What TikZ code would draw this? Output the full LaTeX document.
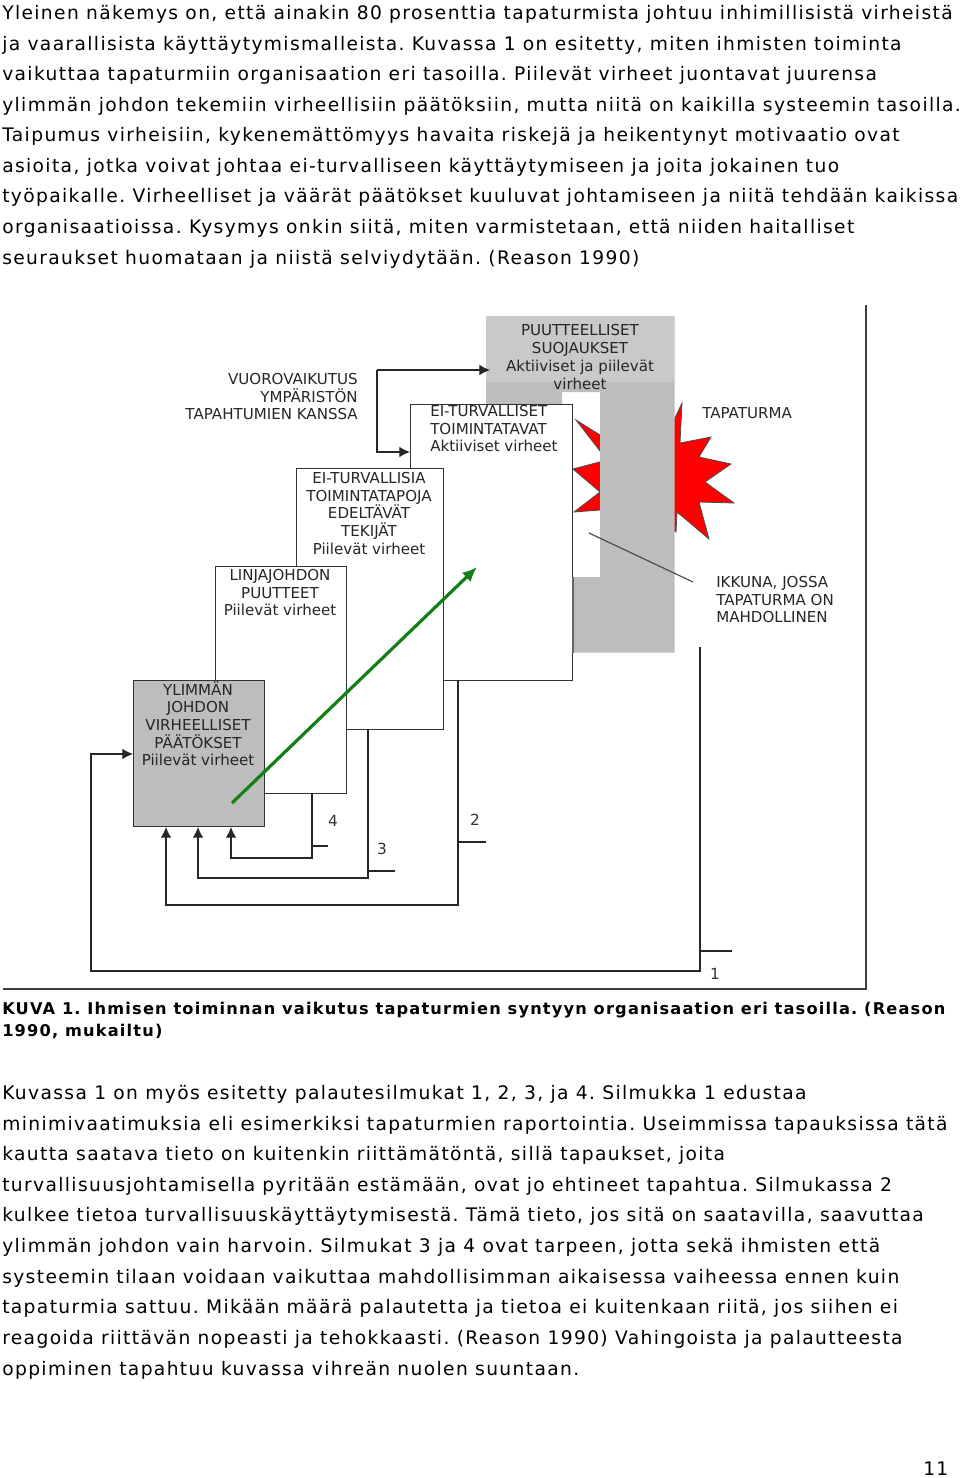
\documentclass[tikz,border=0pt]{standalone}
\usepackage{fontspec}
\setmainfont{DejaVu Sans}
\newfontfamily\bodyfont[LetterSpace=7.3]{DejaVu Sans}
\usetikzlibrary{calc, positioning, arrows.meta}

\definecolor{shieldgray}{HTML}{BDBDBD}
\definecolor{shieldlight}{HTML}{C9C9C9}
\definecolor{arrowgreen}{HTML}{128012}

\tikzset{
    bodyline/.style={anchor=base west,inner sep=0pt,font=\frenchspacing\bodyfont\fontsize{14pt}{16pt}\selectfont},
    captionline/.style={anchor=base west,inner sep=0pt,font=\frenchspacing\bodyfont\bfseries\fontsize{12.15pt}{14pt}\selectfont},
    errbox/.style={draw=black!80,line width=0.9pt,fill=white,anchor=north west,inner sep=0pt},
    boxtext/.style={anchor=north,inner sep=0pt,align=center,font=\fontsize{11.3pt}{13.3pt}\selectfont,text=black!85},
    sidetext/.style={boxtext,align=left,anchor=north west},
    looptext/.style={inner sep=0pt,font=\fontsize{11.5pt}{13pt}\selectfont,text=black!80},
    loopline/.style={draw=black!85,line width=0.9pt},
    looparrow/.style={loopline,-{Latex[length=8pt,width=8pt]}},
}

\begin{document}
\begin{tikzpicture}[x=0.75pt,y=-0.75pt]
    \useasboundingbox (0,0) rectangle (960,1478);

    % upper paragraph
    \node[bodyline] (up1) at (2,19) {Yleinen näkemys on, että ainakin 80 prosenttia tapaturmista johtuu inhimillisistä virheistä};
    \node[bodyline] (up2) at (2,50) {ja vaarallisista käyttäytymismalleista. Kuvassa 1 on esitetty, miten ihmisten toiminta};
    \node[bodyline] (up3) at (2,80) {vaikuttaa tapaturmiin organisaation eri tasoilla. Piilevät virheet juontavat juurensa};
    \node[bodyline] (up4) at (2,111) {ylimmän johdon tekemiin virheellisiin päätöksiin, mutta niitä on kaikilla systeemin tasoilla.};
    \node[bodyline] (up5) at (2,141) {Taipumus virheisiin, kykenemättömyys havaita riskejä ja heikentynyt motivaatio ovat};
    \node[bodyline] (up6) at (2,172) {asioita, jotka voivat johtaa ei-turvalliseen käyttäytymiseen ja joita jokainen tuo};
    \node[bodyline] (up7) at (2,202) {työpaikalle. Virheelliset ja väärät päätökset kuuluvat johtamiseen ja niitä tehdään kaikissa};
    \node[bodyline] (up8) at (2,233) {organisaatioissa. Kysymys onkin siitä, miten varmistetaan, että niiden haitalliset};
    \node[bodyline] (up9) at (2,264) {seuraukset huomataan ja niistä selviydytään. (Reason 1990)};

    % accident star, behind the shield
    \fill[red,draw=black!70,line width=0.6pt] (682,403) -- (680,443) -- (711,437) -- (699,457) -- (731,464) -- (705,482) -- (734,503) -- (699,502) -- (709,539) -- (677,512) -- (676,532) -- (660,520) -- (600,510) -- (574,512) -- (600,492) -- (573,469) -- (607,460) -- (576,420) -- (600,435) -- (674,420) -- cycle;

    % shield with its window
    \node[anchor=north west,inner sep=0pt,minimum width=141pt,minimum height=252pt] (shield) at (486,316) {};
    \coordinate (winA) at (562,392);
    \coordinate (winB) at (600,577);
    \fill[shieldgray,even odd rule] (shield.north west) rectangle (shield.south east) (winA) rectangle (winB);
    \fill[shieldlight] (shield.north west) rectangle (674,382);
    \node[boxtext] (shieldtext) at (580,324.5) {PUUTTEELLISET\\SUOJAUKSET\\Aktiiviset ja piilevät\\virheet};

    % stacked boxes, back to front
    \node[errbox,minimum width=121.5pt,minimum height=207pt] (boxact) at (410,404) {};
    \node[errbox,minimum width=110.25pt,minimum height=195.75pt] (boxpre) at (296,468) {};
    \node[errbox,minimum width=98.25pt,minimum height=170.25pt] (boxline) at (215,566) {};
    \node[errbox,fill=shieldgray,minimum width=98.25pt,minimum height=109.5pt] (boxtop) at (133,680) {};
    \node[sidetext] (acttext) at (430,405) {EI-TURVALLISET\\TOIMINTATAVAT\\Aktiiviset virheet};
    \node[boxtext] (pretext) at (369,472) {EI-TURVALLISIA\\TOIMINTATAPOJA\\EDELTÄVÄT\\TEKIJÄT\\Piilevät virheet};
    \node[boxtext] (linetext) at (280,569) {LINJAJOHDON\\PUUTTEET\\Piilevät virheet};
    \node[boxtext] (toptext) at (198,681) {YLIMMÄN\\JOHDON\\VIRHEELLISET\\PÄÄTÖKSET\\Piilevät virheet};
    \draw[black!60,line width=1.5pt] (winB -| boxact.east) -- (shield.south -| boxact.east);

    % labels outside the boxes
    \node[sidetext,align=right,anchor=north east] (envtext) at (358,373) {VUOROVAIKUTUS\\YMPÄRISTÖN\\TAPAHTUMIEN KANSSA};
    \node[sidetext] (acctext) at (702,407) {TAPATURMA};
    \node[sidetext] (wintext) at (716,576) {IKKUNA, JOSSA\\TAPATURMA ON\\MAHDOLLINEN};
    \coordinate (winstart) at (589,533);
    \coordinate (winend) at (693,582);
    \draw[black!70,line width=0.9pt] (winstart) -- (winend);

    % interaction arrows
    \coordinate (envtop) at (377,370);
    \coordinate (envlow) at (377,452);
    \draw[looparrow,shorten >=-3pt] (envtop) -- (envtop -| shield.west);
    \draw[looparrow] (envtop) -- (envlow) -- (envlow -| boxact.west);

    % feedback loops
    \coordinate (loopA) at (700,647);
    \coordinate (loopAlow) at (700,971);
    \coordinate (loopAin) at (91,754);
    \coordinate (tickA) at (700,951);
    \coordinate (tickAend) at (732,951);
    \draw[looparrow] (loopA) -- (loopAlow) -- (loopAlow -| loopAin) -- (loopAin) -- (loopAin -| boxtop.west);
    \draw[loopline] (tickA) -- (tickAend);
    \node[looptext] (numA) at (715,974) {1};

    \coordinate (loopB) at (458,680);
    \coordinate (loopBlow) at (458,905);
    \coordinate (loopBin) at (166,827);
    \coordinate (tickB) at (458,842);
    \coordinate (tickBend) at (486,842);
    \draw[looparrow] (loopB) -- (loopBlow) -- (loopBlow -| loopBin) -- (loopBin);
    \draw[loopline] (tickB) -- (tickBend);
    \node[looptext] (numB) at (475,820) {2};

    \coordinate (loopC) at (368,729);
    \coordinate (loopClow) at (368,878);
    \coordinate (loopCin) at (198,827);
    \coordinate (tickC) at (368,871);
    \coordinate (tickCend) at (395,871);
    \draw[looparrow] (loopC) -- (loopClow) -- (loopClow -| loopCin) -- (loopCin);
    \draw[loopline] (tickC) -- (tickCend);
    \node[looptext] (numC) at (382,849) {3};

    \coordinate (loopD) at (312,793);
    \coordinate (loopDlow) at (312,858);
    \coordinate (loopDin) at (231,827);
    \coordinate (tickD) at (312,846);
    \coordinate (tickDend) at (328,846);
    \draw[looparrow] (loopD) -- (loopDlow) -- (loopDlow -| loopDin) -- (loopDin);
    \draw[loopline] (tickD) -- (tickDend);
    \node[looptext] (numD) at (333,821) {4};

    % green learning arrow
    \coordinate (greenstart) at (232,803);
    \coordinate (greenend) at (477,567);
    \draw[arrowgreen,line width=2.4pt,-{Latex[length=11pt,width=9.5pt]}] (greenstart) -- (greenend);

    % outer frame
    \coordinate (frameA) at (866,305);
    \coordinate (frameB) at (866,989);
    \coordinate (frameC) at (3,989);
    \draw[black!75,line width=1.2pt] (frameA) -- (frameB) -- (frameC);

    % caption
    \node[captionline] (cap1) at (2,1014) {KUVA 1. Ihmisen toiminnan vaikutus tapaturmien syntyyn organisaation eri tasoilla. (Reason};
    \node[captionline] (cap2) at (2,1036) {1990, mukailtu)};

    % lower paragraph
    \node[bodyline] (low1) at (2,1099) {Kuvassa 1 on myös esitetty palautesilmukat 1, 2, 3, ja 4. Silmukka 1 edustaa};
    \node[bodyline] (low2) at (2,1130) {minimivaatimuksia eli esimerkiksi tapaturmien raportointia. Useimmissa tapauksissa tätä};
    \node[bodyline] (low3) at (2,1160) {kautta saatava tieto on kuitenkin riittämätöntä, sillä tapaukset, joita};
    \node[bodyline] (low4) at (2,1191) {turvallisuusjohtamisella pyritään estämään, ovat jo ehtineet tapahtua. Silmukassa 2};
    \node[bodyline] (low5) at (2,1221) {kulkee tietoa turvallisuuskäyttäytymisestä. Tämä tieto, jos sitä on saatavilla, saavuttaa};
    \node[bodyline] (low6) at (2,1252) {ylimmän johdon vain harvoin. Silmukat 3 ja 4 ovat tarpeen, jotta sekä ihmisten että};
    \node[bodyline] (low7) at (2,1283) {systeemin tilaan voidaan vaikuttaa mahdollisimman aikaisessa vaiheessa ennen kuin};
    \node[bodyline] (low8) at (2,1313) {tapaturmia sattuu. Mikään määrä palautetta ja tietoa ei kuitenkaan riitä, jos siihen ei};
    \node[bodyline] (low9) at (2,1344) {reagoida riittävän nopeasti ja tehokkaasti. (Reason 1990) Vahingoista ja palautteesta};
    \node[bodyline] (low10) at (2,1375) {oppiminen tapahtuu kuvassa vihreän nuolen suuntaan.};
    \node[bodyline] (pagenum) at (923,1475) {11};
\end{tikzpicture}
\end{document}
